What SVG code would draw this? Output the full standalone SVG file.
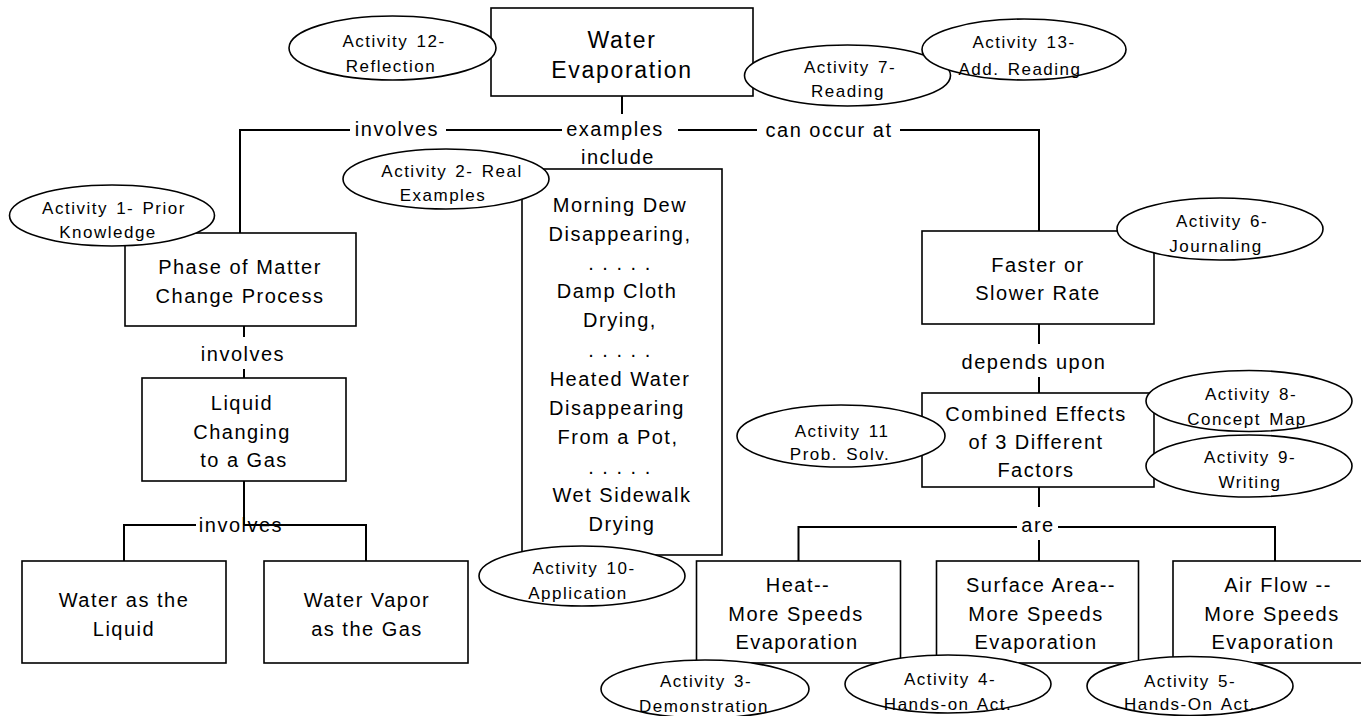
<svg xmlns="http://www.w3.org/2000/svg" width="1361" height="716" viewBox="0 0 1361 716">
  <style>
    .box { fill: #fff; stroke: #000; stroke-width: 1.6; }
    .act { fill: #fff; stroke: #000; stroke-width: 1.6; }
    .link { fill: none; stroke: #000; stroke-width: 2; }
    text { font-family: "Liberation Sans", Arial, sans-serif; fill: #000; text-anchor: middle; }
    .t { font-size: 20px; letter-spacing: 1.5px; }
    .title { font-size: 23px; letter-spacing: 1.7px; }
    .a { font-size: 17px; letter-spacing: 1.5px; word-spacing: 2px; }
  </style>

  <rect width="1361" height="716" fill="#fff"/>

  <!-- connectors and linking phrases -->
  <g id="connectors">
    <path class="link" d="M622 96 V114"/>
    <path class="link" d="M240 233 V130 H350 M446 130 H562 M678 130 H757 M900 130 H1039 V231"/>
    <text class="t" x="397" y="136">involves</text>
    <text class="t" x="615" y="136">examples</text>
    <text class="t" x="618" y="164">include</text>
    <text class="t" x="829" y="137">can occur at</text>

    <path class="link" d="M244 326 V337 M244 369 V378"/>
    <text class="t" x="243" y="361">involves</text>

    <path class="link" d="M244 481 V525 M124 561 V525 H196 M244 525 H366 V561"/>
    <text class="t" x="241" y="532">involves</text>

    <path class="link" d="M1039 324 V344 M1039 377 V393"/>
    <text class="t" x="1034" y="369">depends upon</text>

    <path class="link" d="M1039 487 V507 M1039 540 V561 M798.5 561 V527 H1017 M1058 527 H1275 V561"/>
    <text class="t" x="1038" y="532">are</text>
  </g>

  <!-- concept boxes -->
  <g id="water-evaporation">
    <rect class="box" x="491" y="8" width="262" height="88"/>
    <text class="title" x="622" y="48">Water</text>
    <text class="title" x="622" y="78">Evaporation</text>
  </g>

  <g id="phase-change">
    <rect class="box" x="125" y="233" width="231" height="93"/>
    <text class="t" x="240" y="274">Phase of Matter</text>
    <text class="t" x="240" y="303">Change Process</text>
  </g>

  <g id="liquid-to-gas">
    <rect class="box" x="142" y="378" width="204" height="103"/>
    <text class="t" x="242" y="410">Liquid</text>
    <text class="t" x="242" y="439">Changing</text>
    <text class="t" x="244" y="467">to a Gas</text>
  </g>

  <g id="water-liquid">
    <rect class="box" x="22" y="561" width="204" height="102"/>
    <text class="t" x="124" y="607">Water as the</text>
    <text class="t" x="124" y="636">Liquid</text>
  </g>

  <g id="water-vapor">
    <rect class="box" x="264" y="561" width="204" height="102"/>
    <text class="t" x="367" y="607">Water Vapor</text>
    <text class="t" x="367" y="636">as the Gas</text>
  </g>

  <g id="examples">
    <rect class="box" x="522" y="169" width="200" height="386"/>
    <text class="t" x="620" y="212">Morning Dew</text>
    <text class="t" x="620" y="241">Disappearing,</text>
    <text class="t" x="620" y="270">. . . . .</text>
    <text class="t" x="617" y="298">Damp Cloth</text>
    <text class="t" x="620" y="327">Drying,</text>
    <text class="t" x="620" y="357">. . . . .</text>
    <text class="t" x="620" y="386">Heated Water</text>
    <text class="t" x="617" y="415">Disappearing</text>
    <text class="t" x="618" y="444">From a Pot,</text>
    <text class="t" x="620" y="474">. . . . .</text>
    <text class="t" x="622" y="502">Wet Sidewalk</text>
    <text class="t" x="622" y="531">Drying</text>
  </g>

  <g id="rate">
    <rect class="box" x="922" y="231" width="232" height="93"/>
    <text class="t" x="1038" y="272">Faster or</text>
    <text class="t" x="1038" y="300">Slower Rate</text>
  </g>

  <g id="combined-effects">
    <rect class="box" x="922" y="393" width="232" height="94"/>
    <text class="t" x="1036" y="421">Combined Effects</text>
    <text class="t" x="1036" y="449">of 3 Different</text>
    <text class="t" x="1036" y="477">Factors</text>
  </g>

  <g id="heat">
    <rect class="box" x="696.5" y="561" width="204" height="102"/>
    <text class="t" x="798" y="592">Heat--</text>
    <text class="t" x="796" y="621">More Speeds</text>
    <text class="t" x="797" y="649">Evaporation</text>
  </g>

  <g id="surface-area">
    <rect class="box" x="936.5" y="561" width="202" height="102"/>
    <text class="t" x="1041" y="592">Surface Area--</text>
    <text class="t" x="1036" y="621">More Speeds</text>
    <text class="t" x="1036" y="649">Evaporation</text>
  </g>

  <g id="air-flow">
    <rect class="box" x="1173" y="561" width="204" height="102"/>
    <text class="t" x="1278" y="592">Air Flow --</text>
    <text class="t" x="1272" y="621">More Speeds</text>
    <text class="t" x="1273" y="649">Evaporation</text>
  </g>

  <!-- activity ovals -->
  <g id="activity-12">
    <ellipse class="act" cx="392.5" cy="48" rx="103.5" ry="32"/>
    <text class="a" x="394" y="47">Activity 12-</text>
    <text class="a" x="391" y="72">Reflection</text>
  </g>

  <g id="activity-7">
    <ellipse class="act" cx="847.5" cy="75.5" rx="103" ry="30.5"/>
    <text class="a" x="850" y="73">Activity 7-</text>
    <text class="a" x="848" y="97">Reading</text>
  </g>

  <g id="activity-13">
    <ellipse class="act" cx="1024" cy="49.5" rx="102" ry="30.5"/>
    <text class="a" x="1024" y="48">Activity 13-</text>
    <text class="a" x="1020" y="75">Add. Reading</text>
  </g>

  <g id="activity-2">
    <ellipse class="act" cx="446" cy="179" rx="103" ry="30"/>
    <text class="a" x="452" y="177">Activity 2- Real</text>
    <text class="a" x="443" y="201">Examples</text>
  </g>

  <g id="activity-1">
    <ellipse class="act" cx="112" cy="215.5" rx="102.5" ry="30.5"/>
    <text class="a" x="114" y="214">Activity 1- Prior</text>
    <text class="a" x="108" y="238">Knowledge</text>
  </g>

  <g id="activity-10">
    <ellipse class="act" cx="582" cy="576" rx="103" ry="30"/>
    <text class="a" x="584" y="574">Activity 10-</text>
    <text class="a" x="578" y="599">Application</text>
  </g>

  <g id="activity-6">
    <ellipse class="act" cx="1220" cy="229" rx="103" ry="31"/>
    <text class="a" x="1222" y="227">Activity 6-</text>
    <text class="a" x="1216" y="252">Journaling</text>
  </g>

  <g id="activity-8">
    <ellipse class="act" cx="1249" cy="401" rx="103" ry="30.5"/>
    <text class="a" x="1251" y="400">Activity 8-</text>
    <text class="a" x="1247" y="425">Concept Map</text>
  </g>

  <g id="activity-9">
    <ellipse class="act" cx="1249" cy="466" rx="103" ry="31"/>
    <text class="a" x="1250" y="463">Activity 9-</text>
    <text class="a" x="1250" y="488">Writing</text>
  </g>

  <g id="activity-11">
    <ellipse class="act" cx="841" cy="436" rx="104" ry="31"/>
    <text class="a" x="842" y="437">Activity 11</text>
    <text class="a" x="840" y="460">Prob. Solv.</text>
  </g>

  <g id="activity-3">
    <ellipse class="act" cx="705" cy="689" rx="104" ry="29"/>
    <text class="a" x="706" y="687">Activity 3-</text>
    <text class="a" x="704" y="712">Demonstration</text>
  </g>

  <g id="activity-4">
    <ellipse class="act" cx="948" cy="684" rx="103" ry="29"/>
    <text class="a" x="950" y="685">Activity 4-</text>
    <text class="a" x="948" y="710">Hands-on Act.</text>
  </g>

  <g id="activity-5">
    <ellipse class="act" cx="1190" cy="686" rx="103" ry="29.5"/>
    <text class="a" x="1190" y="687">Activity 5-</text>
    <text class="a" x="1190" y="710">Hands-On Act.</text>
  </g>
</svg>
